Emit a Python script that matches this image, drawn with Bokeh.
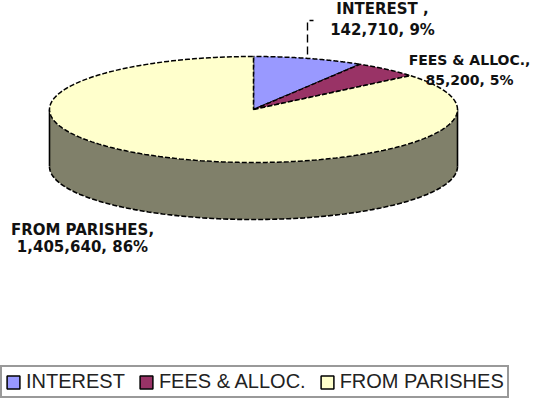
import numpy as np
from bokeh.plotting import figure
from bokeh.models import Range1d, Legend, LegendItem
from bokeh.core.properties import value
from bokeh.embed import file_html
from bokeh.resources import INLINE

# ---- data ----
categories = ["INTEREST", "FEES & ALLOC.", "FROM PARISHES"]
label_names = ["INTEREST ,", "FEES & ALLOC.,", "FROM PARISHES,"]
amounts = [142710, 85200, 1405640]
percent_labels = ["9%", "5%", "86%"]
top_colors = ["#9999FF", "#993366", "#FFFFCC"]
side_colors = ["#4D4D80", "#4D1A33", "#80806A"]

# ---- layout (screen pixel coordinates) ----
W, H = 538, 399
cx, cy, ra, rb, depth = 261, 117, 204, 53, 57
label_pos = [(390, 16, 37), (477, 67, 87), (90, 237, 254)]
label_sizes = ["15px", "14px", "15px"]

p = figure(width=W, height=H, output_backend="svg", toolbar_location=None,
           x_range=Range1d(8, 8 + W), y_range=Range1d(8 + H, 8),
           min_border=0, outline_line_color=None)
p.xaxis.visible = False
p.yaxis.visible = False
p.grid.visible = False
p.background_fill_color = "white"
p.border_fill_color = "white"

total = float(sum(amounts))
bounds = np.concatenate([[0.0], np.cumsum(amounts) / total * 360.0])


def ex(t, dy=0.0):
    t = np.radians(t)
    return cx + ra * np.sin(t), cy + dy - rb * np.cos(t)


# side wall (front half: 90..270 deg clockwise from top)
for i in range(len(amounts)):
    s = max(bounds[i], 90.0)
    e = min(bounds[i + 1], 270.0)
    if e <= s:
        continue
    t = np.linspace(s, e, 120)
    x1, y1 = ex(t)
    x2, y2 = ex(t[::-1], depth)
    p.patch(list(x1) + list(x2), list(y1) + list(y2), fill_color=side_colors[i],
            line_color=None)
    bx, by = ex(t, depth)
    p.line(bx, by, line_color="black", line_width=1.6, line_dash="5 2")

for t0 in (90.0, 270.0):
    x0, y0 = ex(np.array([t0, t0]), 0)
    p.line([x0[0], x0[0]], [y0[0], y0[0] + depth], line_color="black", line_width=1.6)

# top face wedges
for i in range(len(amounts)):
    t = np.linspace(bounds[i], bounds[i + 1], 200)
    x, y = ex(t)
    p.patch([cx] + list(x), [cy] + list(y), fill_color=top_colors[i],
            line_color="black", line_width=1.5, line_dash="5 2")

# data labels
for i in range(len(amounts)):
    xx, y1, y2 = label_pos[i]
    p.text(x=[xx, xx], y=[y1, y2],
           text=[label_names[i], f"{amounts[i]:,}, {percent_labels[i]}"],
           text_align="center", text_baseline="middle",
           text_font=value("DejaVu Sans"), text_font_style="bold",
           text_font_size=label_sizes[i], text_color="#111111")

# leader line for INTEREST
p.line([315, 315, 321], [62, 28, 28], line_color="black", line_width=1.4, line_dash="8 4")

# legend
items = []
for i, c in enumerate(categories):
    r = p.quad(left=[np.nan], right=[np.nan], top=[np.nan], bottom=[np.nan],
               fill_color=top_colors[i], line_color="black", line_width=1.5)
    items.append(LegendItem(label=c, renderers=[r]))
legend = Legend(items=items, orientation="horizontal", location=(0, 1),
                glyph_width=16, glyph_height=16, label_standoff=5, spacing=13,
                padding=3, margin=0, border_line_color="#333333",
                border_line_width=2, background_fill_alpha=1.0,
                label_text_font="Liberation Sans", label_text_font_size="20px",
                label_text_color="#222222", label_height=20)
p.add_layout(legend, "center")

open("out.html", "w").write(file_html(p, INLINE))
